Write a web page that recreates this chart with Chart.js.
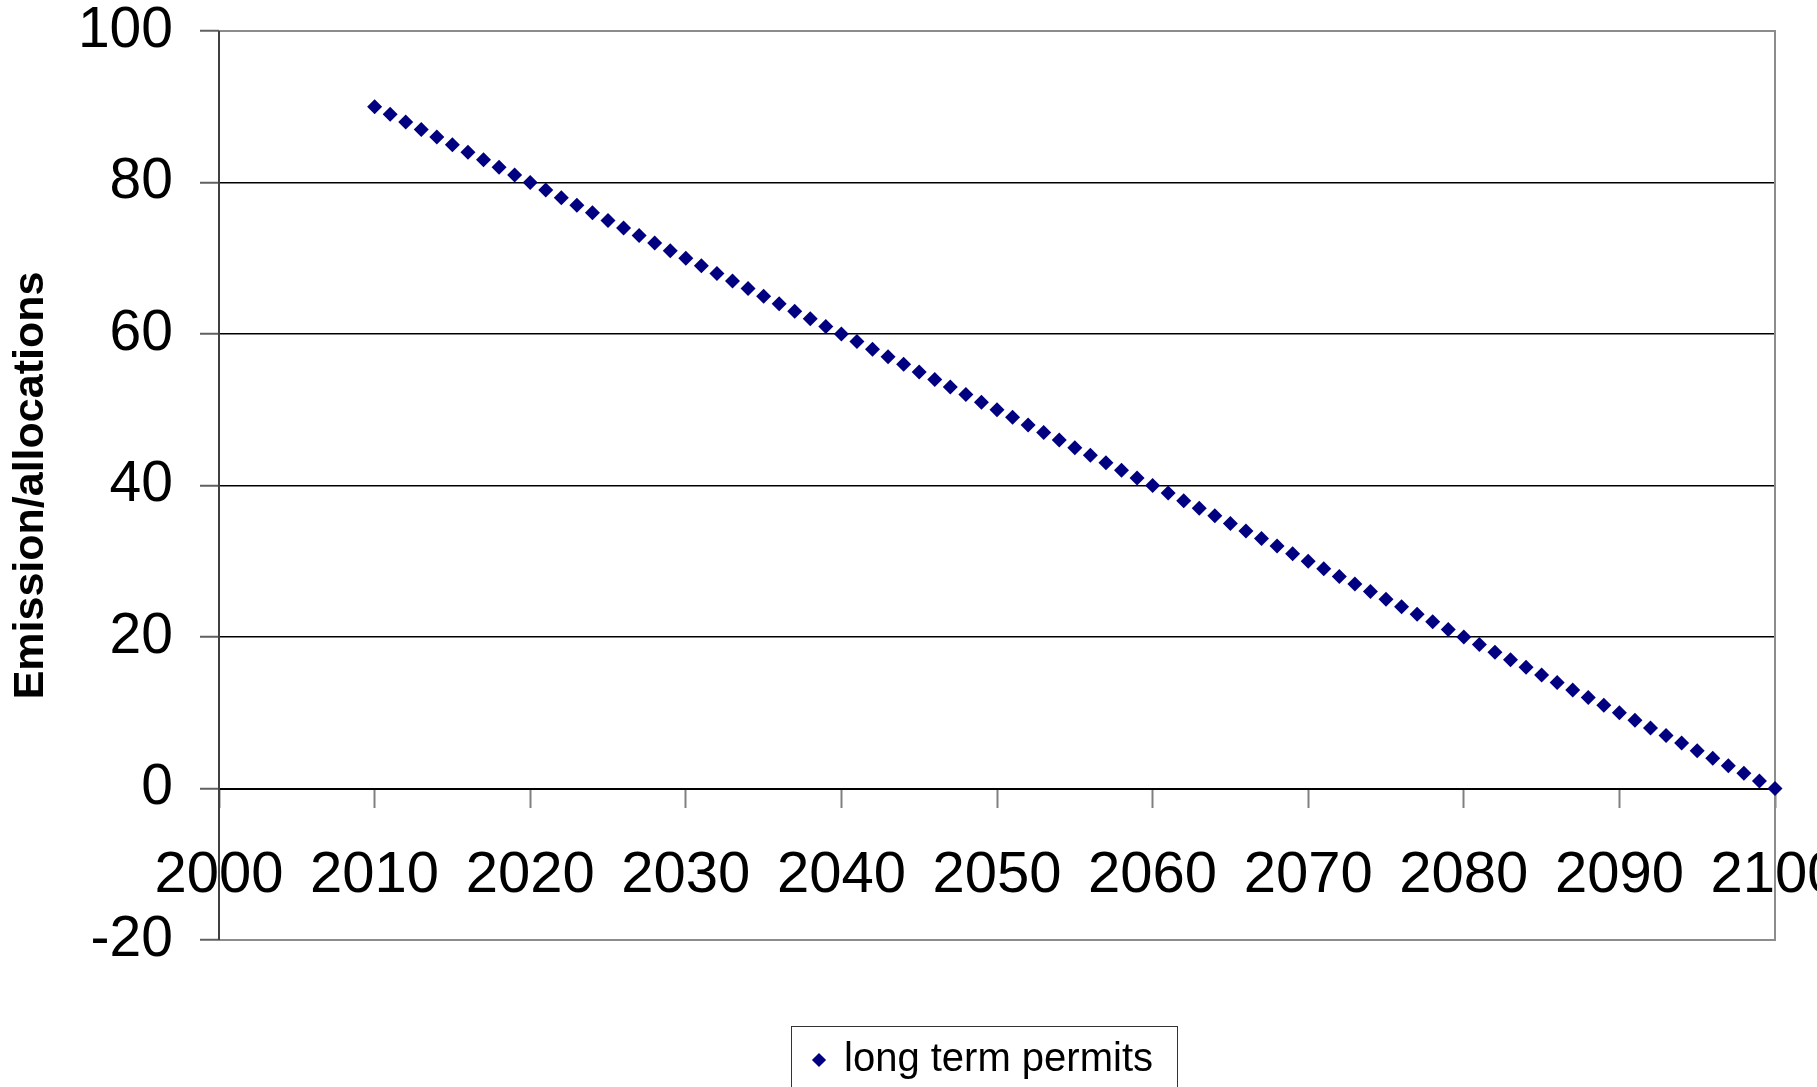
<!DOCTYPE html>
<html lang="en">
<head>
  <meta charset="UTF-8">
  <title>Long term permits</title>
  <style>
    html, body { margin: 0; padding: 0; background: #fff; overflow: hidden; }
    canvas { display: block; }
  </style>
</head>
<body>
  <script src="https://cdn.jsdelivr.net/npm/chart.js@4.4.0/dist/chart.umd.min.js"></script>
  <canvas id="chart" width="1817" height="1090"></canvas>
  <script>
  // yearly permit allocations, 2010 to 2100
  const years = [
    2010, 2011, 2012, 2013, 2014, 2015, 2016, 2017, 2018, 2019,
    2020, 2021, 2022, 2023, 2024, 2025, 2026, 2027, 2028, 2029,
    2030, 2031, 2032, 2033, 2034, 2035, 2036, 2037, 2038, 2039,
    2040, 2041, 2042, 2043, 2044, 2045, 2046, 2047, 2048, 2049,
    2050, 2051, 2052, 2053, 2054, 2055, 2056, 2057, 2058, 2059,
    2060, 2061, 2062, 2063, 2064, 2065, 2066, 2067, 2068, 2069,
    2070, 2071, 2072, 2073, 2074, 2075, 2076, 2077, 2078, 2079,
    2080, 2081, 2082, 2083, 2084, 2085, 2086, 2087, 2088, 2089,
    2090, 2091, 2092, 2093, 2094, 2095, 2096, 2097, 2098, 2099,
    2100
  ];
  const permits = [
    90, 89, 88, 87, 86, 85, 84, 83, 82, 81,
    80, 79, 78, 77, 76, 75, 74, 73, 72, 71,
    70, 69, 68, 67, 66, 65, 64, 63, 62, 61,
    60, 59, 58, 57, 56, 55, 54, 53, 52, 51,
    50, 49, 48, 47, 46, 45, 44, 43, 42, 41,
    40, 39, 38, 37, 36, 35, 34, 33, 32, 31,
    30, 29, 28, 27, 26, 25, 24, 23, 22, 21,
    20, 19, 18, 17, 16, 15, 14, 13, 12, 11,
    10, 9, 8, 7, 6, 5, 4, 3, 2, 1,
    0
  ];
  const seriesName = 'long term permits';
  const yTitle = 'Emission/allocations';
  const xRange = [2000, 2100];
  const yRange = [-20, 100];

  const points = years.map((y, i) => ({ x: y, y: permits[i] }));

  const FONT = "'Liberation Sans', Arial, sans-serif";

  // grey frame round the plot area, drawn under the markers
  const plotFrame = {
    id: 'plotFrame',
    beforeDatasetsDraw(chart) {
      const { ctx, chartArea: a } = chart;
      ctx.save();
      ctx.strokeStyle = '#8c8c8c';
      ctx.lineWidth = 2;
      ctx.beginPath();
      ctx.moveTo(a.left, a.top);
      ctx.lineTo(a.right, a.top);
      ctx.lineTo(a.right, a.bottom);
      ctx.lineTo(a.left, a.bottom);
      ctx.stroke();
      ctx.strokeStyle = '#404040';
      ctx.beginPath();
      ctx.moveTo(a.left, a.top);
      ctx.lineTo(a.left, a.bottom);
      ctx.stroke();
      ctx.restore();
    }
  };

  // nudge the legend right and put a box round it
  const legendBox = {
    id: 'legendBox',
    afterLayout(chart) {
      chart.legend.left += 96;
      chart.legend.right += 96;
    },
    afterDraw(chart) {
      const box = chart.legend.legendHitBoxes && chart.legend.legendHitBoxes[0];
      if (!box) return;
      const { ctx } = chart;
      ctx.save();
      ctx.strokeStyle = '#333';
      ctx.lineWidth = 1;
      ctx.strokeRect(Math.round(box.left - 23) + 0.5, Math.round(box.top - 14) + 0.5,
        Math.round(box.width + 47), 200);
      ctx.restore();
    }
  };

  new Chart(document.getElementById('chart'), {
    type: 'scatter',
    data: {
      datasets: [{
        label: seriesName,
        data: points,
        showLine: false,
        pointStyle: 'rectRot',
        pointRadius: 7.5,
        pointHoverRadius: 7.5,
        backgroundColor: '#000080',
        borderColor: '#000080',
        borderWidth: 0,
        clip: false
      }]
    },
    options: {
      responsive: false,
      animation: false,
      layout: { padding: { top: 31, right: 42, left: 0, bottom: 0 } },
      scales: {
        x: {
          type: 'linear',
          position: { y: 0 },
          min: xRange[0],
          max: xRange[1],
          afterFit(s) { s.paddingLeft = 0; s.paddingRight = 0; },
          grid: {
            drawOnChartArea: false,
            drawTicks: true,
            tickLength: 18,
            tickColor: '#808080',
            tickWidth: 2
          },
          border: { display: true, color: '#000', width: 2 },
          ticks: {
            stepSize: 10,
            autoSkip: false,
            maxRotation: 0,
            padding: 35,
            color: '#000',
            font: { family: FONT, size: 58 },
            callback: (v) => String(v)
          }
        },
        y: {
          min: yRange[0],
          max: yRange[1],
          afterFit(s) { s.width = 219; s.paddingTop = 0; s.paddingBottom = 0; },
          grid: {
            color: (c) => (c.tick.value === yRange[1] ? 'rgba(0,0,0,0)' : '#000'),
            lineWidth: 1.5,
            drawTicks: true,
            tickLength: 19,
            tickColor: '#606060',
            tickWidth: 2
          },
          border: { display: false },
          ticks: {
            stepSize: 20,
            padding: 27,
            color: '#000',
            font: { family: FONT, size: 57 }
          },
          title: {
            display: true,
            text: yTitle,
            color: '#000',
            padding: { top: 5, bottom: 0 },
            font: { family: FONT, size: 43, weight: 'bold' }
          }
        }
      },
      plugins: {
        tooltip: { enabled: false },
        legend: {
          position: 'bottom',
          labels: {
            usePointStyle: true,
            boxWidth: 10,
            boxHeight: 10,
            padding: 100,
            color: '#000',
            font: { family: FONT, size: 40 }
          }
        }
      }
    },
    plugins: [plotFrame, legendBox]
  });
  </script>
</body>
</html>
